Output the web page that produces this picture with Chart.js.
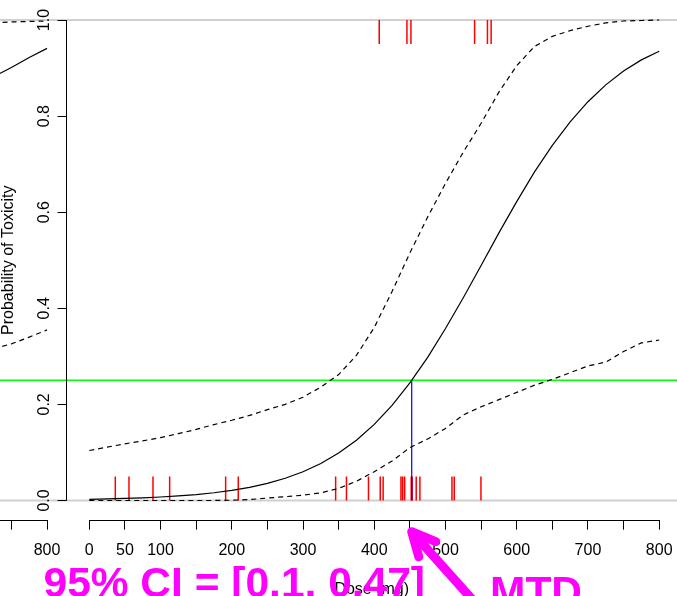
<!DOCTYPE html>
<html>
<head>
<meta charset="utf-8">
<style>
  html, body { margin: 0; padding: 0; background: #fff; overflow: hidden; }
  #wrap { position: relative; width: 677px; height: 596px; }
  #wrap canvas { position: absolute; top: 0; left: 0; }
</style>
</head>
<body>
<div id="wrap">
  <canvas id="prev" width="66" height="596"></canvas>
  <canvas id="main" width="677" height="596"></canvas>
</div>
<script src="https://cdn.jsdelivr.net/npm/chart.js"></script>
<script>
// ---- data ----
const doses = [0, 25, 50, 75, 100, 125, 150, 175, 200, 225, 250, 275, 300, 325, 350, 375, 400,
               425, 450, 475, 500, 525, 550, 575, 600, 625, 650, 675, 700, 725, 750, 775, 800];
const meanTox = [0.0025, 0.0032, 0.0042, 0.0055, 0.0072, 0.0094, 0.0123, 0.0161, 0.021, 0.0274, 0.0357,
                 0.0463, 0.0598, 0.077, 0.0986, 0.1255, 0.1584, 0.198, 0.2446, 0.298, 0.358, 0.422,
                 0.489, 0.557, 0.622, 0.684, 0.739, 0.788, 0.83, 0.865, 0.894, 0.917, 0.935];
const upperTox = [0.104, 0.111, 0.118, 0.124, 0.131, 0.139, 0.148, 0.158, 0.167, 0.177, 0.189, 0.2,
                  0.215, 0.236, 0.262, 0.302, 0.36, 0.435, 0.515, 0.59, 0.66, 0.725, 0.785, 0.85,
                  0.905, 0.945, 0.966, 0.978, 0.987, 0.994, 0.998, 0.999, 1.0];
const lowerTox = [0, 0, 0, 0, 0, 0, 0, 0, 0.0005, 0.002, 0.005, 0.008, 0.011, 0.016, 0.025, 0.04,
                  0.06, 0.082, 0.11, 0.128, 0.15, 0.178, 0.195, 0.21, 0.225, 0.24, 0.252, 0.266,
                  0.28, 0.288, 0.31, 0.328, 0.334];

// doses of patients without / with toxicity (rug marks)
const rugNoTox = [36.5, 55.7, 89.4, 112.8, 191.4, 209.1, 345.8, 361, 391.9, 408.4, 412.5, 437.5,
                  439.9, 442.7, 451.9, 453.3, 458.9, 464.1, 509.1, 512.3, 549.8];
const rugTox = [407, 445.9, 451.5, 540.9, 558.9, 564.1];

// tail of the previous panel (cut off at the left edge)
const prevDoses = [725, 750, 775, 800];
const prevMean = [0.882, 0.901, 0.922, 0.941];
const prevUpper = [0.994, 0.996, 0.997, 0.998];
const prevLower = [0.316, 0.326, 0.34, 0.355];

const targetTox = 0.25;
const mtdDose = 452.6;
const ciText = '95% CI = [0.1, 0.47]';

const xTicks = [0, 50, 100, 150, 200, 250, 300, 350, 400, 450, 500, 550, 600, 650, 700, 750, 800];
const xLabels = [0, 50, 100, 200, 300, 400, 500, 600, 700, 800];
const yTicks = [0, 0.2, 0.4, 0.6, 0.8, 1.0];
const prevTicks = [750, 800];
const prevLabels = [800];

// ---- helpers ----
const FONT = '"Liberation Sans", Arial, Helvetica, sans-serif';
Chart.defaults.font.family = FONT;
Chart.defaults.font.size = 16;
Chart.defaults.color = '#000';

const RUG = 0.05;
const pts = (xs, ys) => xs.map((x, i) => ({x: x, y: ys[i]}));
function rug(xs, y0, y1) {
    const out = [];
    for (const x of xs) out.push({x: x, y: y0}, {x: x, y: y1}, {x: x, y: null});
    return out;
}
function line(data, color, width, dash) {
    return {data: data, borderColor: color, borderWidth: width, borderDash: dash || [],
            pointRadius: 0, tension: 0, fill: false, spanGaps: false};
}
function hline(y, x0, x1, color, width) {
    return line([{x: x0, y: y}, {x: x1, y: y}], color, width);
}
function noPad(s) {
    s.paddingLeft = 0; s.paddingRight = 0; s.paddingTop = 0; s.paddingBottom = 0;
}

function xScale(min, max, ticks, labels) {
    return {
        type: 'linear', min: min, max: max,
        afterBuildTicks: s => { s.ticks = ticks.map(v => ({value: v})); },
        afterFit: s => { s.height = 76.3; noPad(s); },
        ticks: {autoSkip: false, maxRotation: 0, padding: 11,
                callback: v => labels.includes(v) ? String(v) : ''},
        grid: {drawOnChartArea: false, drawTicks: true, tickLength: 10, tickColor: '#000', tickWidth: 1},
        border: {display: false}
    };
}

// axis lines like R's axis(): only over the tick range
function axisLinePlugin(x0, x1, withY) {
    return {
        id: 'rAxes',
        afterDraw(chart) {
            const {ctx, chartArea, scales} = chart;
            ctx.save();
            ctx.strokeStyle = '#000';
            ctx.lineWidth = 1;
            ctx.beginPath();
            const yb = Math.round(chartArea.bottom) + 0.5;
            ctx.moveTo(scales.x.getPixelForValue(x0), yb);
            ctx.lineTo(scales.x.getPixelForValue(x1), yb);
            if (withY) {
                const xl = Math.floor(chartArea.left) + 0.5;
                ctx.moveTo(xl, scales.y.getPixelForValue(yTicks[0]));
                ctx.lineTo(xl, scales.y.getPixelForValue(yTicks[yTicks.length - 1]));
            }
            ctx.stroke();
            ctx.restore();
        }
    };
}

function yScale(width) {
    return {
        type: 'linear', min: -0.04, max: 1.04, display: width > 0,
        afterBuildTicks: s => { s.ticks = yTicks.map(v => ({value: v})); },
        afterFit: s => { s.width = width; noPad(s); },
        ticks: {display: false},
        grid: {drawOnChartArea: false, drawTicks: true, tickLength: 9, tickColor: '#000', tickWidth: 1},
        border: {display: false},
        title: {display: true, text: 'Probability of Toxicity', font: {size: 16}, padding: {top: -1.5, bottom: 0}}
    };
}

const common = {
    responsive: false, animation: false, devicePixelRatio: 1, events: [],
    plugins: {legend: {display: false}, tooltip: {enabled: false}}
};

// ---- previous panel (left strip) ----
new Chart(document.getElementById('prev'), {
    type: 'line',
    data: {datasets: [
        line(pts(prevDoses, prevMean), '#000', 1.2),
        line(pts(prevDoses, prevUpper), '#000', 1.2, [5, 4]),
        line(pts(prevDoses, prevLower), '#000', 1.2, [5, 4]),
        hline(targetTox, 700, 850, '#00ff00', 1.5),
        hline(0, 700, 850, '#d0d0d0', 2),
        hline(1, 700, 850, '#d0d0d0', 2)
    ]},
    options: Object.assign({}, common, {
        layout: {autoPadding: false, padding: {top: 0.8, left: 0, right: 0, bottom: 0}},
        scales: {
            x: xScale(734, 826.6, prevTicks, prevLabels),
            y: yScale(0)
        }
    }),
    plugins: [axisLinePlugin(700, 800, false)]
});

// ---- main panel ----
const annotate = {
    id: 'annotate',
    afterDraw(chart) {
        const {ctx, chartArea, scales: {x, y}} = chart;
        ctx.save();
        // rotated y tick labels, as R draws them
        ctx.fillStyle = '#000';
        ctx.font = '16px ' + FONT;
        ctx.textAlign = 'center';
        ctx.textBaseline = 'alphabetic';
        for (const v of yTicks) {
            ctx.save();
            ctx.translate(chartArea.left - 18, y.getPixelForValue(v));
            ctx.rotate(-Math.PI / 2);
            ctx.fillText(v.toFixed(1), 0, 0);
            ctx.restore();
        }
        // magenta notes
        ctx.fillStyle = '#ff00ff';
        ctx.strokeStyle = '#ff00ff';
        ctx.font = 'bold 42.5px ' + FONT;
        ctx.textAlign = 'left';
        ctx.fillText(ciText, 43.5, 597);
        ctx.fillText('MTD', 490, 606);
        // arrow pointing at the MTD on the dose axis
        const tx = x.getPixelForValue(mtdDose), ty = chartArea.bottom + 12;
        const ang = Math.atan2(65.3, 58.3), head = 26, spread = 26 * Math.PI / 180;
        ctx.lineWidth = 9;
        ctx.lineCap = 'round';
        ctx.lineJoin = 'round';
        ctx.beginPath();
        ctx.moveTo(tx + 120 * Math.cos(ang), ty + 120 * Math.sin(ang));
        ctx.lineTo(tx, ty);
        ctx.moveTo(tx + head * Math.cos(ang - spread), ty + head * Math.sin(ang - spread));
        ctx.lineTo(tx, ty);
        ctx.lineTo(tx + head * Math.cos(ang + spread), ty + head * Math.sin(ang + spread));
        ctx.stroke();
        ctx.restore();
    }
};

new Chart(document.getElementById('main'), {
    type: 'line',
    data: {datasets: [
        line(pts(doses, meanTox), '#000', 1.2),
        line(pts(doses, upperTox), '#000', 1.2, [5, 4]),
        line(pts(doses, lowerTox), '#000', 1.2, [5, 4]),
        line([{x: mtdDose, y: 0}, {x: mtdDose, y: targetTox}], '#0000ff', 1.2),
        line(rug(rugNoTox, 0, RUG), '#ff0000', 1.5),
        line(rug(rugTox, 1, 1 - RUG), '#ff0000', 1.5),
        hline(targetTox, -32, 825, '#00ff00', 1.5),
        hline(0, -32, 825, '#d0d0d0', 2),
        hline(1, -32, 825, '#d0d0d0', 2)
    ]},
    options: Object.assign({}, common, {
        layout: {autoPadding: false, padding: {top: 0.8, left: 0, right: 0, bottom: 0}},
        scales: {
            x: Object.assign(xScale(-32, 825, xTicks, xLabels), {
                title: {display: true, text: 'Dose (mg)', font: {size: 16}, padding: {top: 0, bottom: -3}}
            }),
            y: yScale(66.5)
        }
    }),
    plugins: [axisLinePlugin(xTicks[0], xTicks[xTicks.length - 1], true), annotate]
});
</script>
</body>
</html>
